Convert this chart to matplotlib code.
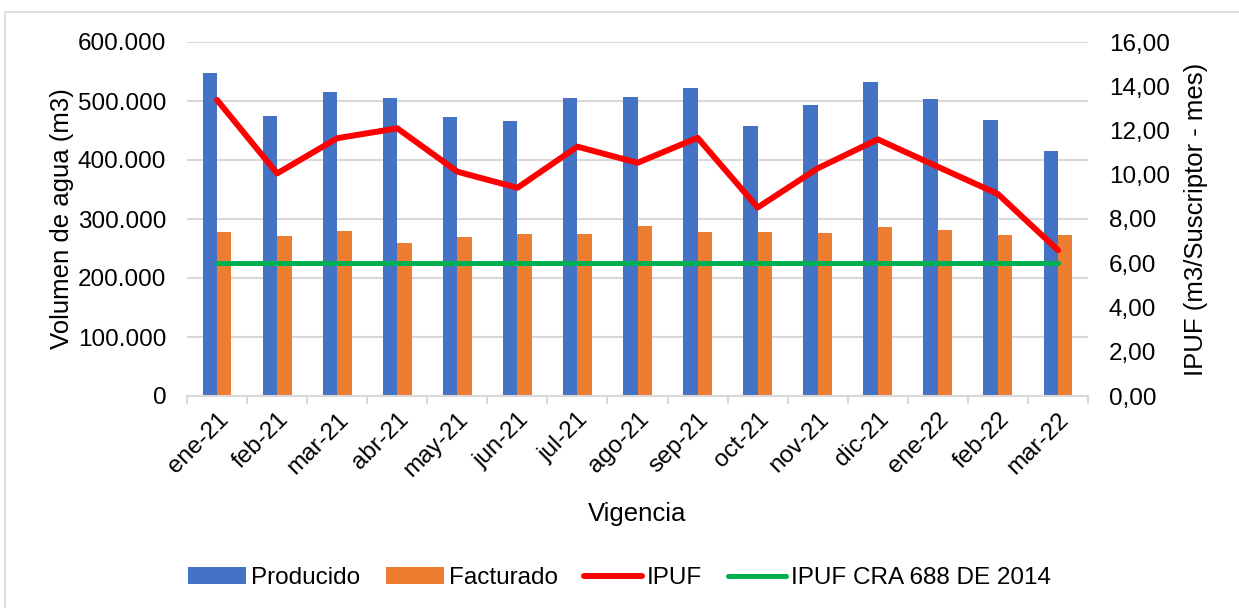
import numpy as np
import matplotlib.pyplot as plt
from matplotlib.patches import Rectangle

plt.rcParams['font.family'] = ['Liberation Sans', 'DejaVu Sans']

# Datos
meses = ['ene-21', 'feb-21', 'mar-21', 'abr-21', 'may-21', 'jun-21', 'jul-21',
         'ago-21', 'sep-21', 'oct-21', 'nov-21', 'dic-21', 'ene-22', 'feb-22', 'mar-22']
producido = [547500, 474000, 516000, 505000, 473500, 466000, 505700, 507500,
             522000, 457000, 494000, 531700, 503000, 468500, 414700]
facturado = [278600, 270700, 280300, 260000, 269000, 275200, 275200, 287600,
             278600, 278600, 277000, 287000, 282000, 273500, 272400]
ipuf = [13.38, 10.06, 11.65, 12.10, 10.14, 9.41, 11.27, 10.54,
        11.67, 8.52, 10.29, 11.60, 10.36, 9.13, 6.59]
ipuf_cra = [6.0] * len(meses)

AZUL = '#4472C4'
NARANJA = '#ED7D31'
ROJO = '#FF0000'
VERDE = '#00B050'
GRIS = '#D9D9D9'
FS = 17.5

fig = plt.figure(figsize=(12.39, 6.08), dpi=100)
ax = fig.add_axes([187/1239, 1 - 396/608, (1088-187)/1239, (396-42)/608])

x = np.arange(len(meses))
w = 0.24
ax.bar(x - w/2, producido, w, color=AZUL, label='Producido', zorder=2)
ax.bar(x + w/2, facturado, w, color=NARANJA, label='Facturado', zorder=2)

ax.set_xlim(-0.5, len(meses) - 0.5)
ax.set_ylim(0, 600000)
ax.set_yticks(np.arange(0, 600001, 100000))
ax.set_yticklabels([f'{int(v):,}'.replace(',', '.') for v in np.arange(0, 600001, 100000)],
                   fontsize=FS)
ax.grid(axis='y', color=GRIS, linewidth=1.5, zorder=0)
ax.set_axisbelow(True)

ax.set_xticks(x)
ax.set_xticklabels(meses, rotation=45, ha='right', rotation_mode='anchor', fontsize=FS)
ax.set_xticks(np.arange(-0.5, len(meses)), minor=True)
ax.tick_params(axis='x', which='major', length=0, pad=9)
ax.tick_params(axis='x', which='minor', length=6, color=GRIS, width=1.5)
ax.tick_params(axis='y', length=0, pad=15)

for s in ['top', 'right', 'left']:
    ax.spines[s].set_visible(False)
ax.spines['bottom'].set_color(GRIS)
ax.spines['bottom'].set_linewidth(1.5)

ax.set_ylabel('Volumen de agua (m3)', fontsize=18.5, labelpad=3)
ax.set_xlabel('Vigencia', fontsize=18.5, labelpad=15)

ax2 = ax.twinx()
ax2.plot(x, ipuf, color=ROJO, linewidth=4.3, label='IPUF', zorder=3, solid_capstyle='round')
ax2.plot(x, ipuf_cra, color=VERDE, linewidth=3.6, label='IPUF CRA 688 DE 2014', zorder=3,
         solid_capstyle='round')
ax2.set_ylim(0, 16)
ax2.set_yticks(np.arange(0, 16.1, 2))
ax2.set_yticklabels([f'{v:.2f}'.replace('.', ',') for v in np.arange(0, 16.1, 2)], fontsize=FS)
ax2.tick_params(axis='y', length=0, pad=15)
for s in ['top', 'right', 'left', 'bottom']:
    ax2.spines[s].set_visible(False)
ax2.set_ylabel('IPUF (m3/Suscriptor - mes)', fontsize=18.5, labelpad=10)

h1, l1 = ax.get_legend_handles_labels()
h2, l2 = ax2.get_legend_handles_labels()
fig.legend(h1 + h2, l1 + l2, loc='center', bbox_to_anchor=(0.5, 1 - 578/608), ncol=4,
           frameon=False, fontsize=FS, handlelength=2.4, handletextpad=0.2, columnspacing=1.05)

# marco exterior
fig.patches.append(Rectangle((5/1239, -0.01), 1.0, 1 - 12/608 + 0.01, transform=fig.transFigure,
                             fill=False, edgecolor=GRIS, linewidth=1.2))

fig.savefig('out.png', dpi=100, facecolor='white')
